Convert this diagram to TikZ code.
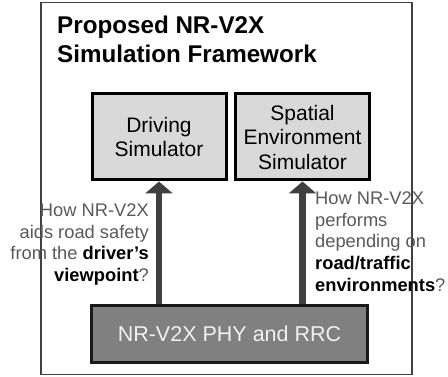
\documentclass[tikz,border=0pt]{standalone}
\usepackage{fontspec}
\setmainfont{Liberation Sans}
\usetikzlibrary{arrows.meta}
\definecolor{frameC}{HTML}{404040}
\definecolor{lightbox}{HTML}{D9D9D9}
\definecolor{darkbox}{HTML}{808080}
\definecolor{arrowC}{HTML}{404040}
\definecolor{noteC}{HTML}{595959}
\begin{document}
\begin{tikzpicture}[x=1pt,y=-1pt,
  simbox/.style={draw=black,line width=3pt,fill=lightbox,minimum width=134pt,minimum height=86pt,
    inner sep=0pt,align=center,font=\fontsize{21}{24.5}\selectfont},
  phybox/.style={draw=black!90,line width=3pt,fill=darkbox,minimum width=276pt,minimum height=57pt,
    inner sep=0pt,text=white!94!black,font=\fontsize{21.5}{26}\selectfont},
  uparrow/.style={draw=arrowC,line width=6.5pt,-{Triangle[width=27pt,length=12pt]}},
  note/.style={inner sep=0pt,text=noteC,font=\fontsize{18.3}{21.6}\selectfont},
  titletext/.style={inner sep=0pt,anchor=north west,align=left,font=\bfseries\fontsize{24.2}{29}\selectfont}]
\useasboundingbox (0,0) rectangle (448,377);
\draw[frameC,line width=1.5pt] (41,2.5) rectangle (412,374.5);
\node[titletext] (title) at (57,15.5) {Proposed NR-V2X\\Simulation Framework};
\node[simbox] (drv) at (159,137) {Driving\\Simulator};
\node[simbox] (spa) at (302.5,137) {Spatial\\Environment\\Simulator};
\node[phybox] (phy) at (229.5,334) {NR-V2X PHY and RRC};
\draw[uparrow] (drv.south |- phy.north) -- (drv.south);
\draw[uparrow] (spa.south |- phy.north) -- (spa.south);
\node[note,anchor=north east,align=right] (leftnote) at (149,203.8)
  {How NR-V2X\\aids road safety\\from the \textcolor{black}{\textbf{driver’s}}\\\textcolor{black}{\textbf{viewpoint}}?};
\node[note,anchor=north west,align=left] (rightnote) at (315,191.8)
  {How NR-V2X\\performs\\depending on\\\textcolor{black}{\textbf{road/traffic}}\\\textcolor{black}{\textbf{environments}}?};
\end{tikzpicture}
\end{document}
